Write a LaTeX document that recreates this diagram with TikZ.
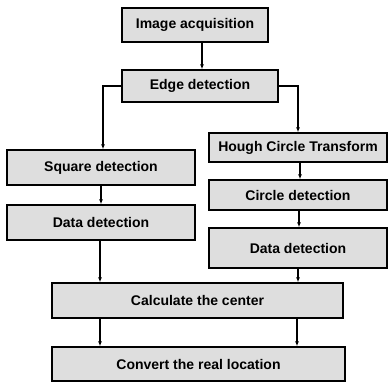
\documentclass[tikz,border=0pt]{standalone}
\usepackage{fontspec}
\setmainfont{Liberation Sans}
\usetikzlibrary{arrows.meta}
\definecolor{boxfill}{HTML}{DEDEDE}
\tikzset{
  box/.style={draw=black, line width=1.4bp, fill=boxfill, inner sep=0pt,
    font=\fontsize{14bp}{16bp}\selectfont\bfseries},
  conn/.style={line width=1.2bp, -{Latex[length=5bp,width=4bp]}}
}
\begin{document}
\begin{tikzpicture}[x=1bp,y=-1bp]
\useasboundingbox (0,0) rectangle (389,382);
\node[box, minimum width=146bp, minimum height=34bp] (img) at (195,25) {Image acquisition};
\node[box, minimum width=156bp, minimum height=32bp] (edge) at (200,86) {Edge detection};
\node[box, minimum width=188bp, minimum height=35bp] (sq) at (101,167.5) {Square detection};
\node[box, minimum width=188bp, minimum height=35bp] (dl) at (101,222.5) {Data detection};
\node[box, minimum width=178bp, minimum height=29bp] (hough) at (298,147.5) {Hough Circle Transform};
\node[box, minimum width=178bp, minimum height=30bp] (circ) at (298,195) {Circle detection};
\node[box, minimum width=178bp, minimum height=40bp] (dr) at (298,248) {Data detection};
\node[box, minimum width=291bp, minimum height=35bp] (calc) at (197.5,300.5) {Calculate the center};
\node[box, minimum width=293bp, minimum height=34bp] (conv) at (198.5,364) {Convert the real location};
\draw[conn] (img.south -| 202,0) -- (edge.north -| 202,0);
\draw[conn] (edge.west) -| (sq.north -| 103,0);
\draw[conn] (edge.east) -| (hough.north -| 298,0);
\draw[conn] (sq.south -| 101,0) -- (dl.north -| 101,0);
\draw[conn] (hough.south -| 300,0) -- (circ.north -| 300,0);
\draw[conn] (circ.south -| 299,0) -- (dr.north -| 299,0);
\draw[conn] (dl.south -| 100,0) -- (calc.north -| 100,0);
\draw[conn] (dr.south -| 298,0) -- (calc.north -| 298,0);
\draw[conn] (calc.south -| 100,0) -- (conv.north -| 100,0);
\draw[conn] (calc.south -| 297,0) -- (conv.north -| 297,0);
\end{tikzpicture}
\end{document}
